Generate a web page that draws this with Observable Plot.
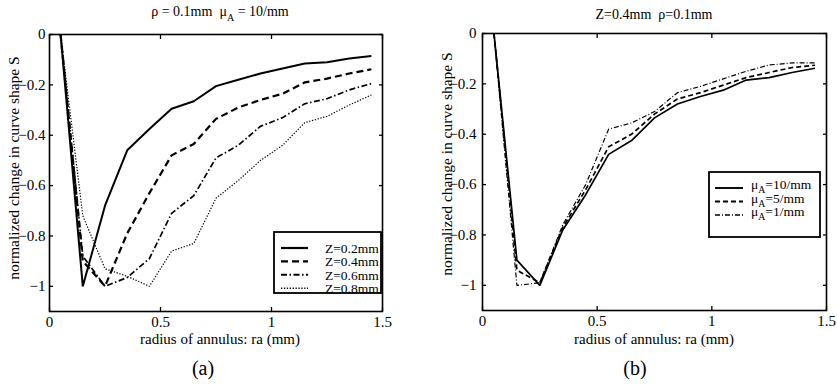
<!DOCTYPE html>
<html>
<head>
<meta charset="utf-8">
<script src="https://cdn.jsdelivr.net/npm/d3@7"></script>
<script src="https://cdn.jsdelivr.net/npm/@observablehq/plot@0.6"></script>
<style>
  body { margin: 0; background: #fff; }
  #wrap { position: relative; width: 837px; height: 384px; font-family: "Liberation Serif", "Times New Roman", "DejaVu Serif", serif; color: #000; overflow: hidden; }
  .panel { position: absolute; top: 0; height: 384px; }
  .t { position: absolute; white-space: nowrap; transform: translate(-50%, -50%); line-height: 1; }
  .rot { transform: translate(-50%, -50%) rotate(-90deg); }
  sub { font-size: 0.72em; vertical-align: -0.45em; line-height: 0; }
  svg text { font-family: "Liberation Serif", "Times New Roman", "DejaVu Serif", serif; }
</style>
</head>
<body>
<div id="wrap">
  <div class="panel" id="pa" style="left:0;width:418px"></div>
  <div class="panel" id="pb" style="left:418px;width:419px"></div>

  <div class="t" style="left:220px;top:12px;font-size:14px">ρ = 0.1mm&nbsp; μ<sub>A</sub> = 10/mm</div>
  <div class="t" style="left:654px;top:15px;font-size:14px">Z=0.4mm&nbsp; ρ=0.1mm</div>

  <div class="t rot" style="left:14px;top:168px;font-size:15.5px">normalized change in curve shape S</div>
  <div class="t rot" style="left:447px;top:164px;font-size:15.5px">normalized change in curve shape S</div>

  <div class="t" style="left:220px;top:339px;font-size:15px">radius of annulus: ra (mm)</div>
  <div class="t" style="left:654px;top:339px;font-size:15px">radius of annulus: ra (mm)</div>

  <div class="t" style="left:203px;top:368px;font-size:20px">(a)</div>
  <div class="t" style="left:635px;top:368px;font-size:20px">(b)</div>
</div>
<script>
// radius of annulus (mm), shared by every curve
const ra = [0.05, 0.15, 0.25, 0.35, 0.45, 0.55, 0.65, 0.75, 0.85, 0.95, 1.05, 1.15, 1.25, 1.35, 1.45];

// (a) rho = 0.1mm, muA = 10/mm, several depths Z
const zLabels = ["Z=0.2mm", "Z=0.4mm", "Z=0.6mm", "Z=0.8mm"];
const sZ02 = [0, -1.0, -0.68, -0.46, -0.375, -0.295, -0.265, -0.205, -0.18, -0.155, -0.135, -0.115, -0.11, -0.095, -0.085];
const sZ04 = [0, -0.9, -1.0, -0.79, -0.63, -0.48, -0.435, -0.335, -0.29, -0.26, -0.235, -0.19, -0.175, -0.155, -0.138];
const sZ06 = [0, -0.88, -1.0, -0.965, -0.89, -0.71, -0.64, -0.49, -0.44, -0.365, -0.33, -0.275, -0.255, -0.22, -0.195];
const sZ08 = [0, -0.72, -0.93, -0.96, -1.0, -0.86, -0.83, -0.65, -0.58, -0.50, -0.44, -0.35, -0.325, -0.28, -0.24];

// (b) Z = 0.4mm, rho = 0.1mm, several absorption coefficients muA
const muLabels = ["10/mm", "5/mm", "1/mm"];
const sMu10 = [0, -0.9, -1.0, -0.78, -0.64, -0.48, -0.425, -0.335, -0.28, -0.25, -0.225, -0.185, -0.175, -0.155, -0.138];
const sMu5 = [0, -0.94, -0.99, -0.77, -0.62, -0.45, -0.40, -0.32, -0.26, -0.235, -0.205, -0.175, -0.155, -0.135, -0.126];
const sMu1 = [0, -1.0, -0.99, -0.76, -0.60, -0.38, -0.355, -0.31, -0.235, -0.21, -0.18, -0.15, -0.125, -0.117, -0.117];

// axis ticks
const xTicks = [0, 0.5, 1, 1.5];
const yTicks = [0, -0.2, -0.4, -0.6, -0.8, -1];

const fmt = d => String(d).replace("-", "\u2212");
const pairs = s => ra.map((r, i) => [r, s[i]]);
const serif = "'Liberation Serif', 'Times New Roman', 'DejaVu Serif', serif";

function panel({width, margins, series, yPad}) {
  const [mt, mr, mb, ml] = margins;
  return Plot.plot({
    width, height: 384,
    marginTop: mt, marginRight: mr, marginBottom: mb, marginLeft: ml,
    x: {domain: [0, 1.5]},
    y: {domain: [-1.1, 0]},
    style: {fontFamily: serif, fontSize: "15px", background: "transparent", color: "#000"},
    marks: [
      ...series.map(s => Plot.line(pairs(s.values), {
        stroke: "#000", strokeWidth: s.width, strokeDasharray: s.dash, strokeLinecap: "butt", strokeLinejoin: "miter"
      })),
      Plot.axisX({ticks: xTicks, tickSize: -4, tickPadding: 9, tickFormat: fmt, label: null, strokeWidth: 1.3}),
      Plot.axisX({anchor: "top", ticks: xTicks, tickSize: -4, tickFormat: () => "", label: null, strokeWidth: 1.3}),
      Plot.axisY({ticks: yTicks, tickSize: -4, tickPadding: yPad, tickFormat: fmt, label: null, strokeWidth: 1.3}),
      Plot.axisY({anchor: "right", ticks: yTicks, tickSize: -4, tickFormat: () => "", label: null, strokeWidth: 1.3}),
      Plot.frame({stroke: "#000", strokeWidth: 1.6})
    ]
  });
}

const seriesA = [
  {values: sZ02, width: 2.0, dash: null},
  {values: sZ04, width: 2.2, dash: "7,4"},
  {values: sZ06, width: 1.7, dash: "6,2.5,1.5,2.5"},
  {values: sZ08, width: 1.2, dash: "1.3,1.6"}
];
const seriesB = [
  {values: sMu10, width: 1.7, dash: null},
  {values: sMu5, width: 1.7, dash: "5,3"},
  {values: sMu1, width: 1.2, dash: "5,2,1,2"}
];

const plotA = panel({width: 418, margins: [34, 36, 73, 49], series: seriesA, yPad: 8});
const plotB = panel({width: 419, margins: [33, 11, 74, 64], series: seriesB, yPad: 10});
document.getElementById("pa").append(plotA);
document.getElementById("pb").append(plotB);

// boxed legends in the lower/right part of each panel
function legend(svg, box, rows, series, subscript) {
  const g = d3.select(svg).append("g")
    .attr("font-family", serif).attr("fill", "#000").attr("text-anchor", "start");
  g.append("rect").attr("x", box.x).attr("y", box.y).attr("width", box.w).attr("height", box.h)
    .attr("fill", "#fff").attr("stroke", "#000").attr("stroke-width", 1.8);
  rows.forEach((label, i) => {
    const y = box.y + box.first + i * box.step;
    g.append("line").attr("x1", box.x + box.l1).attr("x2", box.x + box.l2).attr("y1", y).attr("y2", y)
      .attr("stroke", "#000").attr("stroke-width", series[i].width + 0.2)
      .attr("stroke-dasharray", series[i].dash);
    const t = g.append("text").attr("x", box.x + box.tx).attr("y", y + box.dy)
      .attr("font-size", box.fs).attr("text-anchor", "start");
    if (subscript) {
      t.append("tspan").text("μ");
      t.append("tspan").attr("dy", 4).attr("font-size", box.fs * 0.72).text("A");
      t.append("tspan").attr("dy", -4).text("=" + label);
    } else {
      t.text(label);
    }
  });
}
legend(plotA, {x: 274, y: 232, w: 107, h: 61, first: 16, step: 13.4, l1: 7, l2: 34, tx: 51, dy: 5, fs: 13.5}, zLabels, seriesA, false);
legend(plotB, {x: 709 - 418, y: 172, w: 111, h: 65, first: 16, step: 13.5, l1: 6, l2: 34, tx: 42, dy: 1, fs: 13.5}, muLabels, seriesB, true);
</script>
</body>
</html>
